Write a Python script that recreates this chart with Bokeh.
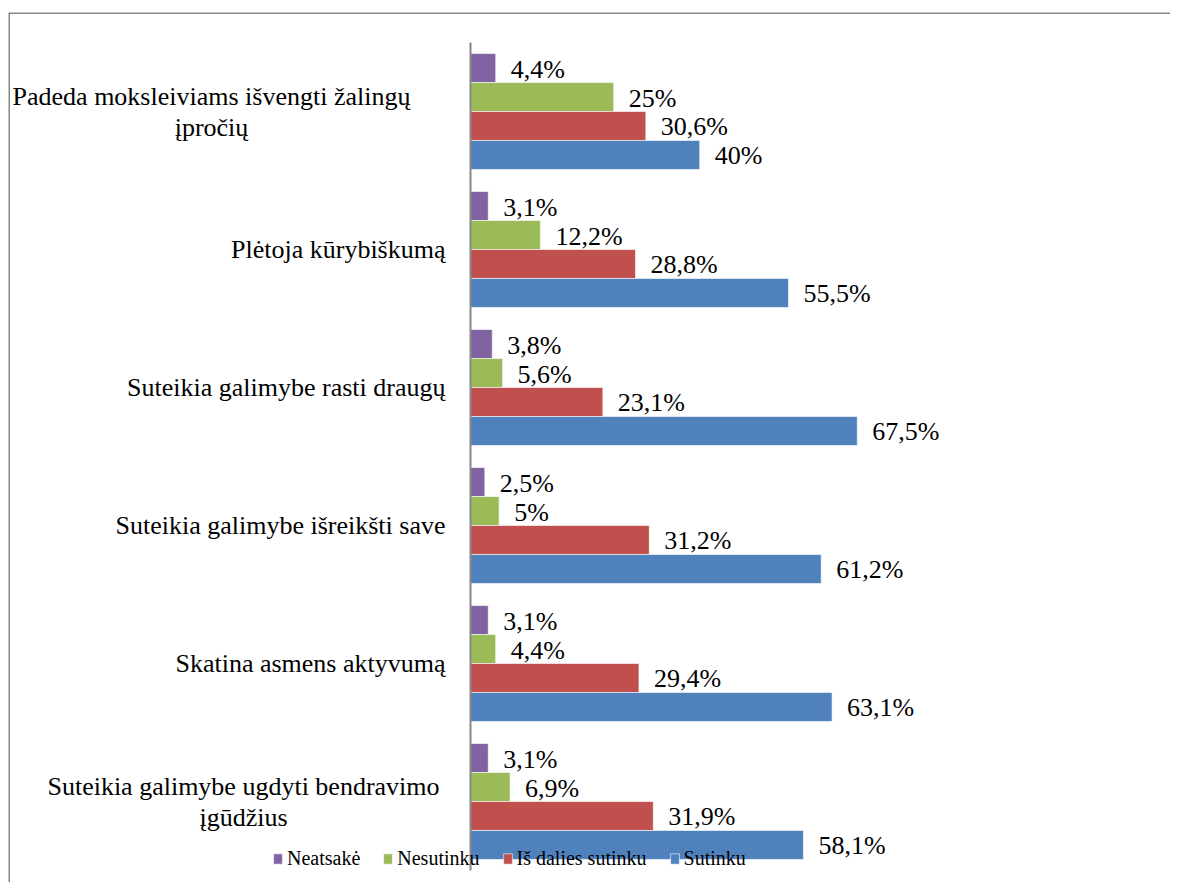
from bokeh.plotting import figure
from bokeh.models import Range1d, ColumnDataSource, Legend, LegendItem, Span
from bokeh.core.properties import value
from bokeh.embed import file_html
from bokeh.resources import INLINE

# ---- data (top to bottom as in the chart) ----
categories = [
    "Padeda moksleiviams išvengti žalingų\nįpročių",
    "Plėtoja kūrybiškumą",
    "Suteikia galimybe rasti draugų",
    "Suteikia galimybe išreikšti save",
    "Skatina asmens aktyvumą",
    "Suteikia galimybe ugdyti bendravimo\nįgūdžius",
]
series_names = ["Neatsakė", "Nesutinku", "Iš dalies sutinku", "Sutinku"]
neatsake = [4.4, 3.1, 3.8, 2.5, 3.1, 3.1]
nesutinku = [25.0, 12.2, 5.6, 5.0, 4.4, 6.9]
is_dalies = [30.6, 28.8, 23.1, 31.2, 29.4, 31.9]
sutinku = [40.0, 55.5, 67.5, 61.2, 63.1, 58.1]
labels_neatsake = ["4,4%", "3,1%", "3,8%", "2,5%", "3,1%", "3,1%"]
labels_nesutinku = ["25%", "12,2%", "5,6%", "5%", "4,4%", "6,9%"]
labels_is_dalies = ["30,6%", "28,8%", "23,1%", "31,2%", "29,4%", "31,9%"]
labels_sutinku = ["40%", "55,5%", "67,5%", "61,2%", "63,1%", "58,1%"]

series_values = [neatsake, nesutinku, is_dalies, sutinku]
series_labels = [labels_neatsake, labels_nesutinku, labels_is_dalies, labels_sutinku]
colors = ["#8064A2", "#9BBB59", "#C0504D", "#4F81BD"]

FONT = "Liberation Serif"

n = len(categories)
pos = [n - i - 0.5 for i in range(n)]   # category centres, first at top

# layout: pixel scale of the original
PX_PER_UNIT_X = 5.73
PX_PER_CAT = 138.0
W, H = 1170, 882
TOP_PAD, LEFT_PAD = 12, 8
LEFT_OF_ZERO = 462          # px from frame left to value 0
ABOVE_AXIS = 30             # px from frame top to the axis top
frame_w = W - LEFT_PAD
frame_h = H - TOP_PAD
x_start = -LEFT_OF_ZERO / PX_PER_UNIT_X
x_end = (frame_w - LEFT_OF_ZERO) / PX_PER_UNIT_X
y_end = n + ABOVE_AXIS / PX_PER_CAT
y_start = y_end - frame_h / PX_PER_CAT

p = figure(
    width=W, height=H,
    x_range=Range1d(x_start, x_end), y_range=Range1d(y_start, y_end),
    output_backend="svg", toolbar_location=None,
    min_border_left=LEFT_PAD, min_border_top=TOP_PAD, min_border_bottom=0, min_border_right=0,
)
p.axis.visible = False
p.grid.visible = False
p.outline_line_color = None
p.background_fill_color = "white"
p.border_fill_color = "white"

# chart-area border (top and left edges visible in the original)
p.add_layout(Span(location=y_end, dimension="width", line_color="#878787", line_width=3))
p.add_layout(Span(location=x_start, dimension="height", line_color="#878787", line_width=3))

bar_h = 0.21
offsets = [0.315, 0.105, -0.105, -0.315]

renderers = []
for name, vals, labs, col, off in zip(series_names, series_values, series_labels, colors, offsets):
    ys = [c + off for c in pos]
    src = ColumnDataSource(dict(y=ys, v=vals, lab=labs))
    r = p.hbar(y="y", right="v", left=0, height=bar_h,
               source=src, fill_color=col, line_color="white", line_width=0.6)
    renderers.append(r)
    p.text(x="v", y="y", text="lab", source=src,
           x_offset=15, y_offset=1, text_font=value(FONT), text_font_size="26px",
           text_baseline="middle", text_align="left", text_color="black")

# category axis line
p.segment(x0=0, y0=0, x1=0, y1=n, line_color="#878787", line_width=2)

# category labels: single lines right-aligned next to the axis,
# wrapped labels centred line by line
LINE_H = 31
wrap_centre = {0: -259, 5: -227}   # px from the axis to the centre of a wrapped label
s_txt, s_y = [], []
m_txt, m_y, m_xo, m_yo = [], [], [], []
for i, (c, y) in enumerate(zip(categories, pos)):
    lines = c.split("\n")
    if len(lines) == 1:
        s_txt.append(c)
        s_y.append(y)
    else:
        for k, ln in enumerate(lines):
            m_txt.append(ln)
            m_y.append(y)
            m_xo.append(wrap_centre[i])
            m_yo.append((k - (len(lines) - 1) / 2) * LINE_H)

p.text(x=0, y="y", text="t", source=ColumnDataSource(dict(t=s_txt, y=s_y)),
       x_offset=-25, y_offset=0, text_font=value(FONT), text_font_size="26px",
       text_baseline="middle", text_align="right", text_color="black")
p.text(x=0, y="y", text="t", x_offset="xo", y_offset="yo",
       source=ColumnDataSource(dict(t=m_txt, y=m_y, xo=m_xo, yo=m_yo)),
       text_font=value(FONT), text_font_size="26px",
       text_baseline="middle", text_align="center", text_color="black")

legend = Legend(
    items=[LegendItem(label=nm, renderers=[r]) for nm, r in zip(series_names, renderers)],
    orientation="horizontal", location=(264, 12),
    background_fill_alpha=0, border_line_alpha=0,
    glyph_width=11, glyph_height=13, label_standoff=4, spacing=22,
    label_text_font=FONT, label_text_font_size="20px", label_text_color="black",
    label_height=14, padding=0, margin=0,
)
p.add_layout(legend, "center")

open("out.html", "w").write(file_html(p, INLINE))
